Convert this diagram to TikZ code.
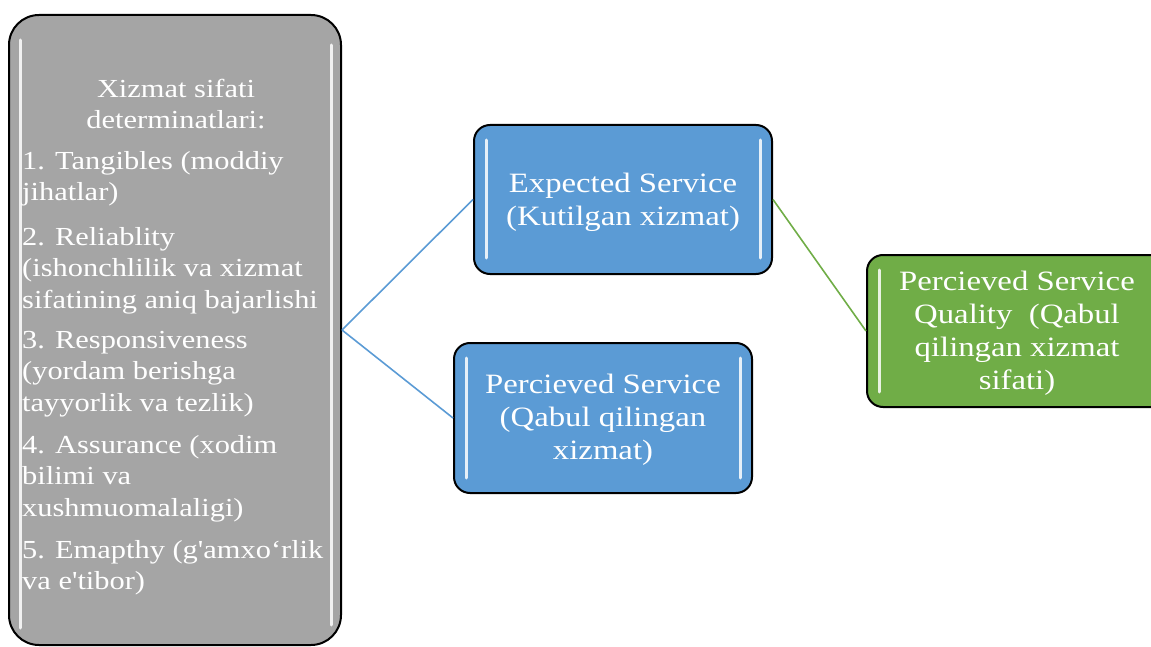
\documentclass[tikz,border=0pt]{standalone}
\usepackage{fontspec}
\usetikzlibrary{calc}
\setmainfont{Liberation Serif}[FakeStretch=1.17, Ligatures=TeXOff]
\definecolor{grayc}{HTML}{A5A5A5}
\definecolor{bluec}{HTML}{5B9BD5}
\definecolor{greenc}{HTML}{70AD47}
\tikzset{
  boxbase/.style={draw=black, line width=2pt, inner sep=0pt},
  graybox/.style={boxbase, fill=grayc, rounded corners=30pt},
  bluebox/.style={boxbase, fill=bluec, rounded corners=16pt},
  greenbox/.style={boxbase, fill=greenc, rounded corners=16pt},
  hl/.style={white, line width=3pt, line cap=round, opacity=0.85},
  bigtxt/.style={text=white, align=center, inner sep=0pt, font=\fontsize{28}{33}\selectfont},
  smalltxt/.style={text=white, align=left, inner sep=0pt, anchor=north west, font=\fontsize{26}{31.5}\selectfont},
  conn/.style={line width=1.6pt}
}
\begin{document}
\begin{tikzpicture}[x=1pt,y=-1pt]
\useasboundingbox (0,0) rectangle (1151,647);
% boxes
\node[graybox, minimum width=332pt, minimum height=630pt] (det) at (175,330) {};
\node[bluebox, minimum width=298pt, minimum height=149pt] (exp) at (623,199.5) {};
\node[bluebox, minimum width=298pt, minimum height=150pt] (per) at (603,418) {};
\node[greenbox, minimum width=300pt, minimum height=152pt] (psq) at (1017,331) {};
% highlights
\draw[hl] (20,40) -- (20,628);
\draw[hl] (331,45) -- (331,625);
\draw[hl] (486,140) -- (486,258);
\draw[hl] (760,140) -- (760,258);
\draw[hl] (466,358) -- (466,478);
\draw[hl] (740,358) -- (740,478);
\draw[hl] (879,270) -- (879,392);
% connectors
\draw[conn, bluec] (det.east) -- (exp.west);
\draw[conn, bluec] (det.east) -- (per.west);
\draw[conn, greenc] (exp.east) -- (psq.west);
% texts
\node[bigtxt] (exptxt) at ($(exp)+(0,2.5)$) {Expected Service\\(Kutilgan xizmat)};
\node[bigtxt] (pertxt) at ($(per)+(0,2)$) {Percieved Service\\(Qabul qilingan\\xizmat)};
\node[bigtxt] (psqtxt) at ($(psq)+(0,2)$) {Percieved Service\\Quality\ \ (Qabul\\qilingan xizmat\\sifati)};
\node[text=white, align=center, inner sep=0pt, font=\fontsize{26}{31.5}\selectfont] (title) at (176,104) {Xizmat sifati\\determinatlari:};
\node[smalltxt] (p1) at (22,151) {1. Tangibles (moddiy\\jihatlar)};
\node[smalltxt] (p2) at (22,227) {2. Reliablity\\(ishonchlilik va xizmat\\sifatining aniq bajarlishi};
\node[smalltxt] (p3) at (22,331) {3. Responsiveness\\(yordam berishga\\tayyorlik va tezlik)};
\node[smalltxt] (p4) at (22,435) {4. Assurance (xodim\\bilimi va\\xushmuomalaligi)};
\node[smalltxt] (p5) at (22,540) {5. Emapthy (g'amxo‘rlik\\va e'tibor)};
\end{tikzpicture}
\end{document}
